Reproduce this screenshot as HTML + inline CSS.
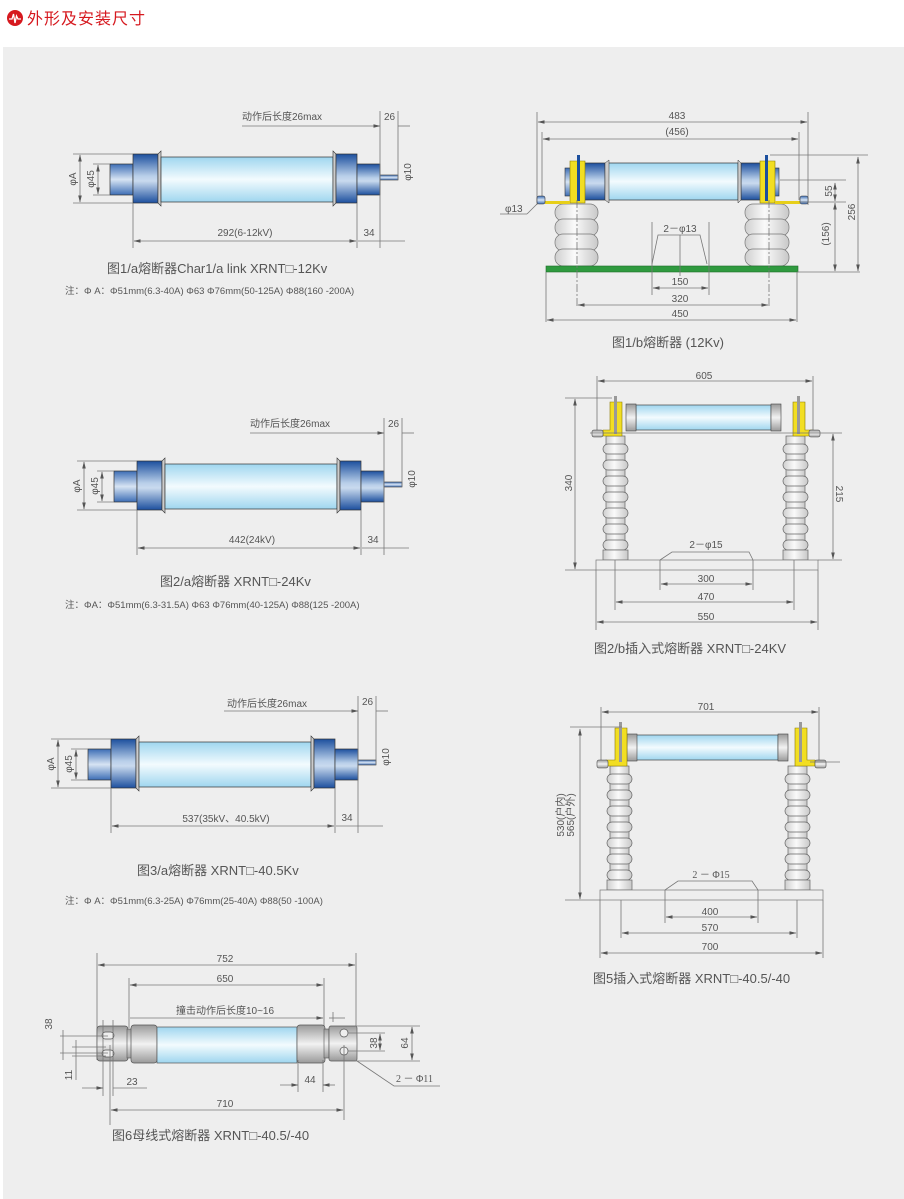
<!DOCTYPE html>
<html><head><meta charset="utf-8"><style>
html,body{margin:0;padding:0;background:#fff;}
svg{display:block;}
text{font-family:"Liberation Sans","Noto Sans CJK SC",sans-serif;fill:#555;}
.d{stroke:#777;stroke-width:0.8;fill:none;}
.t{font-size:10px;}
.c{font-size:13px;fill:#555;}
.n{font-size:9.5px;fill:#555;}
</style></head><body>
<svg width="904" height="1199" viewBox="0 0 904 1199" xmlns="http://www.w3.org/2000/svg">
<defs>
<marker id="a" markerWidth="7" markerHeight="6" refX="6.5" refY="3" orient="auto-start-reverse" markerUnits="userSpaceOnUse"><path d="M0,1.2 L7,3 L0,4.8z" fill="#555"/></marker>
<linearGradient id="bl" x1="0" y1="0" x2="0" y2="1"><stop offset="0" stop-color="#1c4f9e"/><stop offset="0.45" stop-color="#b9cfe9"/><stop offset="0.55" stop-color="#c9daee"/><stop offset="1" stop-color="#1c4f9e"/></linearGradient>
<linearGradient id="bl2" x1="0" y1="0" x2="0" y2="1"><stop offset="0" stop-color="#3c6db5"/><stop offset="0.5" stop-color="#d7e4f3"/><stop offset="1" stop-color="#3c6db5"/></linearGradient>
<linearGradient id="gl" x1="0" y1="0" x2="0" y2="1"><stop offset="0" stop-color="#9fd6ef"/><stop offset="0.5" stop-color="#f3fbfe"/><stop offset="1" stop-color="#9fd6ef"/></linearGradient>
<linearGradient id="gr" x1="0" y1="0" x2="0" y2="1"><stop offset="0" stop-color="#9a9a9a"/><stop offset="0.5" stop-color="#f2f2f2"/><stop offset="1" stop-color="#9a9a9a"/></linearGradient>
<linearGradient id="in" x1="0" y1="0" x2="1" y2="0"><stop offset="0" stop-color="#cfcfcf"/><stop offset="0.45" stop-color="#fafafa"/><stop offset="1" stop-color="#c8c8c8"/></linearGradient>
<g id="fa">
<rect x="110" y="164" width="23" height="31" fill="url(#bl2)" stroke="#333" stroke-width="0.7"/>
<rect x="133" y="154" width="25" height="49" fill="url(#bl)" stroke="#333" stroke-width="0.7"/>
<path d="M158,203 L161,206 L161,151 L158,154z" fill="#ccc" stroke="#333" stroke-width="0.6"/>
<rect x="161" y="157" width="172" height="45" fill="url(#gl)" stroke="#333" stroke-width="0.7"/>
<path d="M336,203 L333,206 L333,151 L336,154z" fill="#ccc" stroke="#333" stroke-width="0.6"/>
<rect x="336" y="154" width="21" height="49" fill="url(#bl)" stroke="#333" stroke-width="0.7"/>
<rect x="357" y="164" width="23" height="31" fill="url(#bl)" stroke="#333" stroke-width="0.7"/>
<rect x="380" y="175" width="18" height="5" fill="url(#bl2)" stroke="#333" stroke-width="0.6"/>
</g>
<g id="col">
<rect x="0" y="0" width="19" height="120" fill="url(#in)" stroke="#666" stroke-width="0.7"/>
<rect x="-3" y="8" width="25" height="10" rx="5" fill="url(#in)" stroke="#666" stroke-width="0.7"/>
<rect x="-3" y="24" width="25" height="10" rx="5" fill="url(#in)" stroke="#666" stroke-width="0.7"/>
<rect x="-3" y="40" width="25" height="10" rx="5" fill="url(#in)" stroke="#666" stroke-width="0.7"/>
<rect x="-3" y="56" width="25" height="10" rx="5" fill="url(#in)" stroke="#666" stroke-width="0.7"/>
<rect x="-3" y="72" width="25" height="10" rx="5" fill="url(#in)" stroke="#666" stroke-width="0.7"/>
<rect x="-3" y="88" width="25" height="10" rx="5" fill="url(#in)" stroke="#666" stroke-width="0.7"/>
<rect x="-3" y="104" width="25" height="10" rx="5" fill="url(#in)" stroke="#666" stroke-width="0.7"/>
<rect x="-3" y="114" width="25" height="10" fill="url(#in)" stroke="#666" stroke-width="0.7"/>
</g>
</defs>
<rect x="0" y="0" width="904" height="1199" fill="#fff"/>
<rect x="3" y="47" width="901" height="1152" fill="#eeeeee"/>
<!-- header -->
<circle cx="15" cy="18" r="8" fill="#d6191f"/>
<path d="M9,19 L12,19 L13.5,14 L15,23 L16.5,16 L18,19 L21,19" stroke="#fff" stroke-width="1.3" fill="none"/>
<text x="27" y="24" style="font-size:16px;fill:#d6191f;letter-spacing:1px">外形及安装尺寸</text>

<!-- Fig 1/a -->
<use href="#fa"/>
<text x="242" y="120" class="t">动作后长度26max</text>
<line x1="242" y1="126" x2="380" y2="126" class="d" marker-end="url(#a)"/>
<line x1="398" y1="126" x2="410" y2="126" class="d"/>
<line x1="380" y1="111" x2="380" y2="248" class="d"/>
<line x1="398" y1="111" x2="398" y2="180" class="d"/>
<text x="384" y="120" class="t">26</text>
<text transform="translate(411,172) rotate(-90)" class="t" text-anchor="middle">φ10</text>
<line x1="73" y1="154" x2="133" y2="154" class="d"/><line x1="73" y1="203" x2="133" y2="203" class="d"/>
<line x1="93" y1="164" x2="110" y2="164" class="d"/><line x1="93" y1="195" x2="110" y2="195" class="d"/>
<line x1="80" y1="155" x2="80" y2="202" class="d" marker-start="url(#a)" marker-end="url(#a)"/>
<line x1="98" y1="165" x2="98" y2="194" class="d" marker-start="url(#a)" marker-end="url(#a)"/>
<text transform="translate(76,179) rotate(-90)" class="t" text-anchor="middle">φA</text>
<text transform="translate(94,179) rotate(-90)" class="t" text-anchor="middle">φ45</text>
<line x1="133" y1="203" x2="133" y2="248" class="d"/><line x1="357" y1="203" x2="357" y2="248" class="d"/>
<line x1="134" y1="241" x2="356" y2="241" class="d" marker-start="url(#a)" marker-end="url(#a)"/>
<line x1="358" y1="241" x2="380" y2="241" class="d"/><line x1="380" y1="241" x2="405" y2="241" class="d"/>
<text x="245" y="236" class="t" text-anchor="middle">292(6-12kV)</text>
<text x="369" y="236" class="t" text-anchor="middle">34</text>
<text x="107" y="273" class="c">图1/a熔断器Char1/a link  XRNT□-12Kv</text>
<text x="65" y="294" class="n">注：Φ A：Φ51mm(6.3-40A)  Φ63  Φ76mm(50-125A)  Φ88(160 -200A)</text>

<!-- Fig 2/a -->
<g transform="translate(4,307)"><use href="#fa"/>
<line x1="246" y1="126" x2="380" y2="126" class="d" marker-end="url(#a)"/>
<line x1="398" y1="126" x2="410" y2="126" class="d"/>
<line x1="380" y1="111" x2="380" y2="248" class="d"/>
<line x1="398" y1="111" x2="398" y2="180" class="d"/>
<text x="384" y="120" class="t">26</text>
<text transform="translate(411,172) rotate(-90)" class="t" text-anchor="middle">φ10</text>
<line x1="73" y1="154" x2="133" y2="154" class="d"/><line x1="73" y1="203" x2="133" y2="203" class="d"/>
<line x1="93" y1="164" x2="110" y2="164" class="d"/><line x1="93" y1="195" x2="110" y2="195" class="d"/>
<line x1="80" y1="155" x2="80" y2="202" class="d" marker-start="url(#a)" marker-end="url(#a)"/>
<line x1="98" y1="165" x2="98" y2="194" class="d" marker-start="url(#a)" marker-end="url(#a)"/>
<text transform="translate(76,179) rotate(-90)" class="t" text-anchor="middle">φA</text>
<text transform="translate(94,179) rotate(-90)" class="t" text-anchor="middle">φ45</text>
<line x1="133" y1="203" x2="133" y2="248" class="d"/><line x1="357" y1="203" x2="357" y2="248" class="d"/>
<line x1="134" y1="241" x2="356" y2="241" class="d" marker-start="url(#a)" marker-end="url(#a)"/>
<line x1="358" y1="241" x2="405" y2="241" class="d"/>
<text x="369" y="236" class="t" text-anchor="middle">34</text>
</g>
<text x="250" y="427" class="t">动作后长度26max</text>
<text x="252" y="543" class="t" text-anchor="middle">442(24kV)</text>
<text x="160" y="586" class="c">图2/a熔断器 XRNT□-24Kv</text>
<text x="65" y="608" class="n">注：ΦA：Φ51mm(6.3-31.5A)  Φ63  Φ76mm(40-125A)  Φ88(125 -200A)</text>

<!-- Fig 3/a -->
<g transform="translate(-22,585)"><use href="#fa"/>
<line x1="246" y1="126" x2="380" y2="126" class="d" marker-end="url(#a)"/>
<line x1="398" y1="126" x2="410" y2="126" class="d"/>
<line x1="380" y1="111" x2="380" y2="248" class="d"/>
<line x1="398" y1="111" x2="398" y2="180" class="d"/>
<text x="384" y="120" class="t">26</text>
<text transform="translate(411,172) rotate(-90)" class="t" text-anchor="middle">φ10</text>
<line x1="73" y1="154" x2="133" y2="154" class="d"/><line x1="73" y1="203" x2="133" y2="203" class="d"/>
<line x1="93" y1="164" x2="110" y2="164" class="d"/><line x1="93" y1="195" x2="110" y2="195" class="d"/>
<line x1="80" y1="155" x2="80" y2="202" class="d" marker-start="url(#a)" marker-end="url(#a)"/>
<line x1="98" y1="165" x2="98" y2="194" class="d" marker-start="url(#a)" marker-end="url(#a)"/>
<text transform="translate(76,179) rotate(-90)" class="t" text-anchor="middle">φA</text>
<text transform="translate(94,179) rotate(-90)" class="t" text-anchor="middle">φ45</text>
<line x1="133" y1="203" x2="133" y2="248" class="d"/><line x1="357" y1="203" x2="357" y2="248" class="d"/>
<line x1="134" y1="241" x2="356" y2="241" class="d" marker-start="url(#a)" marker-end="url(#a)"/>
<line x1="358" y1="241" x2="405" y2="241" class="d"/>
<text x="369" y="236" class="t" text-anchor="middle">34</text>
</g>
<text x="227" y="707" class="t">动作后长度26max</text>
<text x="226" y="822" class="t" text-anchor="middle">537(35kV、40.5kV)</text>
<text x="137" y="875" class="c">图3/a熔断器 XRNT□-40.5Kv</text>
<text x="65" y="904" class="n">注：Φ A：Φ51mm(6.3-25A)  Φ76mm(25-40A)  Φ88(50 -100A)</text>

<!-- Fig 1/b -->
<line x1="537" y1="112" x2="537" y2="205" class="d"/><line x1="808" y1="112" x2="808" y2="205" class="d"/>
<line x1="542" y1="132" x2="542" y2="200" class="d"/><line x1="799" y1="132" x2="799" y2="200" class="d"/>
<line x1="538" y1="122" x2="807" y2="122" class="d" marker-start="url(#a)" marker-end="url(#a)"/>
<line x1="543" y1="139" x2="798" y2="139" class="d" marker-start="url(#a)" marker-end="url(#a)"/>
<text x="677" y="119" class="t" text-anchor="middle">483</text>
<text x="677" y="135" class="t" text-anchor="middle">(456)</text>
<!-- insulators -->
<g fill="url(#in)" stroke="#777" stroke-width="0.7">
<rect x="555" y="204" width="43" height="17" rx="8"/><rect x="555" y="219" width="43" height="17" rx="8"/><rect x="555" y="234" width="43" height="17" rx="8"/><rect x="555" y="249" width="43" height="17" rx="8"/>
<rect x="745" y="204" width="44" height="17" rx="8"/><rect x="745" y="219" width="44" height="17" rx="8"/><rect x="745" y="234" width="44" height="17" rx="8"/><rect x="745" y="249" width="44" height="17" rx="8"/>
</g>
<rect x="546" y="266" width="252" height="6" fill="#2f9a3f" stroke="#1e6e2b" stroke-width="0.6"/>
<!-- fuse -->
<rect x="608" y="163" width="130" height="37" fill="url(#gl)" stroke="#333" stroke-width="0.7"/>
<rect x="583" y="163" width="22" height="37" fill="url(#bl)" stroke="#333" stroke-width="0.7"/>
<rect x="741" y="163" width="22" height="37" fill="url(#bl)" stroke="#333" stroke-width="0.7"/>
<rect x="565" y="168" width="10" height="28" fill="url(#bl2)" stroke="#333" stroke-width="0.6"/>
<rect x="770" y="168" width="9" height="28" fill="url(#bl2)" stroke="#333" stroke-width="0.6"/>
<path d="M605,200 L609,203 L609,160 L605,163z M741,200 L738,203 L738,160 L741,163z" fill="#ccc" stroke="#333" stroke-width="0.5"/>
<path d="M570,161 L585,161 L585,203 L570,203z" fill="#f2de22" stroke="#8a7a00" stroke-width="0.6"/>
<path d="M760,161 L775,161 L775,203 L760,203z" fill="#f2de22" stroke="#8a7a00" stroke-width="0.6"/>
<rect x="577" y="155" width="3" height="46" fill="#1c4f9e"/><rect x="765" y="155" width="3" height="46" fill="#1c4f9e"/>
<rect x="545" y="201" width="25" height="3" fill="#e7cf1a"/><rect x="775" y="201" width="25" height="3" fill="#e7cf1a"/>
<rect x="537" y="196" width="8" height="8" rx="2" fill="url(#bl2)" stroke="#333" stroke-width="0.6"/>
<rect x="800" y="196" width="8" height="8" rx="2" fill="url(#bl2)" stroke="#333" stroke-width="0.6"/>
<line x1="577" y1="200" x2="577" y2="308" class="d" stroke-dasharray="8,2,2,2"/>
<line x1="769" y1="200" x2="769" y2="308" class="d" stroke-dasharray="8,2,2,2"/>
<line x1="500" y1="214" x2="527" y2="214" class="d"/><line x1="527" y1="214" x2="537" y2="204" class="d"/>
<text x="505" y="212" class="t">φ13</text>
<line x1="652" y1="222" x2="652" y2="295" class="d"/><line x1="709" y1="222" x2="709" y2="295" class="d"/>
<path d="M652,264 L658,235 L700,235 L707,264" class="d"/>
<line x1="680" y1="235" x2="680" y2="276" class="d"/>
<text x="680" y="232" class="t" text-anchor="middle">2－φ13</text>
<line x1="653" y1="288" x2="708" y2="288" class="d" marker-start="url(#a)" marker-end="url(#a)"/>
<text x="680" y="285" class="t" text-anchor="middle">150</text>
<line x1="578" y1="305" x2="768" y2="305" class="d" marker-start="url(#a)" marker-end="url(#a)"/>
<text x="680" y="302" class="t" text-anchor="middle">320</text>
<line x1="546" y1="272" x2="546" y2="322" class="d"/><line x1="797" y1="272" x2="797" y2="322" class="d"/>
<line x1="547" y1="320" x2="796" y2="320" class="d" marker-start="url(#a)" marker-end="url(#a)"/>
<text x="680" y="317" class="t" text-anchor="middle">450</text>
<line x1="770" y1="155" x2="868" y2="155" class="d"/><line x1="780" y1="180" x2="846" y2="180" class="d"/>
<line x1="800" y1="202" x2="846" y2="202" class="d"/><line x1="797" y1="272" x2="860" y2="272" class="d"/>
<line x1="835" y1="183" x2="835" y2="201" class="d" marker-start="url(#a)" marker-end="url(#a)"/>
<line x1="835" y1="203" x2="835" y2="271" class="d" marker-start="url(#a)" marker-end="url(#a)"/>
<line x1="858" y1="157" x2="858" y2="271" class="d" marker-start="url(#a)" marker-end="url(#a)"/>
<text transform="translate(832,191) rotate(-90)" class="t" text-anchor="middle">55</text>
<text transform="translate(829,234) rotate(-90)" class="t" text-anchor="middle">(156)</text>
<text transform="translate(855,212) rotate(-90)" class="t" text-anchor="middle">256</text>
<text x="612" y="347" class="c">图1/b熔断器 (12Kv)</text>

<!-- Fig 2/b -->
<line x1="597" y1="376" x2="597" y2="432" class="d"/><line x1="813" y1="376" x2="813" y2="432" class="d"/>
<line x1="598" y1="381" x2="812" y2="381" class="d" marker-start="url(#a)" marker-end="url(#a)"/>
<text x="704" y="379" class="t" text-anchor="middle">605</text>
<use href="#col" transform="translate(606,436)"/>
<use href="#col" transform="translate(786,436)"/>
<rect x="596" y="560" width="222" height="10" fill="#eee" stroke="#777" stroke-width="0.7"/>
<rect x="636" y="405" width="135" height="25" fill="url(#gl)" stroke="#444" stroke-width="0.7"/>
<rect x="626" y="404" width="10" height="27" fill="url(#gr)" stroke="#444" stroke-width="0.6"/>
<rect x="771" y="404" width="10" height="27" fill="url(#gr)" stroke="#444" stroke-width="0.6"/>
<path d="M610,402 L622,402 L622,436 L603,436 L603,430 L610,430z" fill="#f2de22" stroke="#8a7a00" stroke-width="0.6"/>
<path d="M793,402 L805,402 L805,430 L812,430 L812,436 L793,436z" fill="#f2de22" stroke="#8a7a00" stroke-width="0.6"/>
<rect x="614" y="396" width="3" height="38" fill="#999"/><rect x="797" y="396" width="3" height="38" fill="#999"/>
<rect x="592" y="430" width="11" height="7" rx="2" fill="url(#gr)" stroke="#444" stroke-width="0.6"/>
<rect x="809" y="430" width="11" height="7" rx="2" fill="url(#gr)" stroke="#444" stroke-width="0.6"/>
<line x1="565" y1="398" x2="612" y2="398" class="d"/><line x1="565" y1="570" x2="596" y2="570" class="d"/>
<line x1="575" y1="399" x2="575" y2="569" class="d" marker-start="url(#a)" marker-end="url(#a)"/>
<text transform="translate(572,483) rotate(-90)" class="t" text-anchor="middle">340</text>
<line x1="590" y1="433" x2="842" y2="433" class="d"/><line x1="818" y1="560" x2="842" y2="560" class="d"/>
<line x1="833" y1="434" x2="833" y2="559" class="d" marker-start="url(#a)" marker-end="url(#a)"/>
<text transform="translate(836,494) rotate(90)" class="t" text-anchor="middle">215</text>
<path d="M660,560 L672,552 L749,552 L753,560" class="d"/>
<text x="706" y="548" class="t" text-anchor="middle">2－φ15</text>
<line x1="660" y1="560" x2="660" y2="590" class="d"/><line x1="753" y1="560" x2="753" y2="590" class="d"/>
<line x1="661" y1="584" x2="752" y2="584" class="d" marker-start="url(#a)" marker-end="url(#a)"/>
<text x="706" y="582" class="t" text-anchor="middle">300</text>
<line x1="615" y1="560" x2="615" y2="610" class="d"/><line x1="794" y1="560" x2="794" y2="610" class="d"/>
<line x1="616" y1="602" x2="793" y2="602" class="d" marker-start="url(#a)" marker-end="url(#a)"/>
<text x="706" y="600" class="t" text-anchor="middle">470</text>
<line x1="596" y1="570" x2="596" y2="630" class="d"/><line x1="818" y1="570" x2="818" y2="630" class="d"/>
<line x1="597" y1="622" x2="817" y2="622" class="d" marker-start="url(#a)" marker-end="url(#a)"/>
<text x="706" y="620" class="t" text-anchor="middle">550</text>
<text x="594" y="653" class="c">图2/b插入式熔断器 XRNT□-24KV</text>

<!-- Fig 5 -->
<line x1="601" y1="707" x2="601" y2="765" class="d"/><line x1="819" y1="707" x2="819" y2="765" class="d"/>
<line x1="602" y1="712" x2="818" y2="712" class="d" marker-start="url(#a)" marker-end="url(#a)"/>
<text x="706" y="710" class="t" text-anchor="middle">701</text>
<use href="#col" transform="translate(610,766)"/>
<use href="#col" transform="translate(788,766)"/>
<rect x="600" y="890" width="223" height="10" fill="#eee" stroke="#777" stroke-width="0.7"/>
<rect x="636" y="735" width="142" height="25" fill="url(#gl)" stroke="#444" stroke-width="0.7"/>
<rect x="627" y="734" width="10" height="27" fill="url(#gr)" stroke="#444" stroke-width="0.6"/>
<rect x="778" y="734" width="10" height="27" fill="url(#gr)" stroke="#444" stroke-width="0.6"/>
<path d="M615,728 L627,728 L627,766 L606,766 L606,760 L615,760z" fill="#f2de22" stroke="#8a7a00" stroke-width="0.6"/>
<path d="M795,728 L807,728 L807,760 L815,760 L815,766 L795,766z" fill="#f2de22" stroke="#8a7a00" stroke-width="0.6"/>
<rect x="619" y="722" width="3" height="40" fill="#999"/><rect x="799" y="722" width="3" height="40" fill="#999"/>
<rect x="597" y="760" width="11" height="8" rx="2" fill="url(#gr)" stroke="#444" stroke-width="0.6"/>
<rect x="815" y="760" width="11" height="8" rx="2" fill="url(#gr)" stroke="#444" stroke-width="0.6"/>
<line x1="570" y1="727" x2="622" y2="727" class="d"/><line x1="565" y1="900" x2="600" y2="900" class="d"/>
<line x1="580" y1="729" x2="580" y2="899" class="d" marker-start="url(#a)" marker-end="url(#a)"/>
<text transform="translate(564,815) rotate(-90)" class="t" text-anchor="middle">530(户内)</text>
<text transform="translate(574,815) rotate(-90)" class="t" text-anchor="middle">565(户外)</text>
<line x1="810" y1="762" x2="840" y2="762" class="d"/>
<path d="M665,890 L678,881 L752,881 L758,890" class="d"/>
<text x="711" y="878" class="t" text-anchor="middle" style="font-family:'Liberation Serif',serif">2 － Φ15</text>
<line x1="665" y1="890" x2="665" y2="923" class="d"/><line x1="758" y1="890" x2="758" y2="923" class="d"/>
<line x1="666" y1="917" x2="757" y2="917" class="d" marker-start="url(#a)" marker-end="url(#a)"/>
<text x="710" y="915" class="t" text-anchor="middle">400</text>
<line x1="621" y1="900" x2="621" y2="938" class="d"/><line x1="797" y1="900" x2="797" y2="938" class="d"/>
<line x1="622" y1="933" x2="796" y2="933" class="d" marker-start="url(#a)" marker-end="url(#a)"/>
<text x="710" y="931" class="t" text-anchor="middle">570</text>
<line x1="600" y1="900" x2="600" y2="958" class="d"/><line x1="823" y1="900" x2="823" y2="958" class="d"/>
<line x1="601" y1="953" x2="822" y2="953" class="d" marker-start="url(#a)" marker-end="url(#a)"/>
<text x="710" y="950" class="t" text-anchor="middle">700</text>
<text x="593" y="983" class="c">图5插入式熔断器 XRNT□-40.5/-40</text>

<!-- Fig 6 -->
<line x1="97" y1="953" x2="97" y2="1060" class="d"/><line x1="356" y1="953" x2="356" y2="1028" class="d"/>
<line x1="98" y1="965" x2="355" y2="965" class="d" marker-start="url(#a)" marker-end="url(#a)"/>
<text x="225" y="962" class="t" text-anchor="middle">752</text>
<line x1="129" y1="978" x2="129" y2="1028" class="d"/><line x1="324" y1="978" x2="324" y2="1028" class="d"/>
<line x1="130" y1="985" x2="323" y2="985" class="d" marker-start="url(#a)" marker-end="url(#a)"/>
<text x="225" y="982" class="t" text-anchor="middle">650</text>
<text x="225" y="1014" class="t" text-anchor="middle">撞击动作后长度10~16</text>
<line x1="130" y1="1018" x2="323" y2="1018" class="d" marker-end="url(#a)"/>
<line x1="333" y1="1018" x2="345" y2="1018" class="d"/><line x1="333" y1="1018" x2="329" y2="1018" class="d"/>
<line x1="333" y1="1012" x2="333" y2="1022" class="d"/>
<rect x="97" y="1026" width="31" height="35" rx="3" fill="url(#gr)" stroke="#555" stroke-width="0.7"/>
<rect x="127" y="1029" width="5" height="29" fill="url(#gr)" stroke="#555" stroke-width="0.6"/>
<rect x="131" y="1025" width="26" height="38" rx="3" fill="url(#gr)" stroke="#555" stroke-width="0.7"/>
<rect x="157" y="1027" width="140" height="36" fill="url(#gl)" stroke="#555" stroke-width="0.7"/>
<rect x="297" y="1025" width="28" height="38" rx="3" fill="url(#gr)" stroke="#555" stroke-width="0.7"/>
<rect x="324" y="1029" width="5" height="29" fill="url(#gr)" stroke="#555" stroke-width="0.6"/>
<rect x="329" y="1026" width="28" height="35" rx="2" fill="url(#gr)" stroke="#555" stroke-width="0.7"/>
<rect x="102" y="1032" width="12" height="7" rx="3.5" fill="#eee" stroke="#555" stroke-width="0.7"/>
<rect x="102" y="1050" width="12" height="7" rx="3.5" fill="#eee" stroke="#555" stroke-width="0.7"/>
<circle cx="344" cy="1033" r="4" fill="#eee" stroke="#555" stroke-width="0.7"/>
<circle cx="344" cy="1051" r="4" fill="#eee" stroke="#555" stroke-width="0.7"/>
<line x1="60" y1="1036" x2="108" y2="1036" class="d"/><line x1="60" y1="1053" x2="108" y2="1053" class="d"/>
<line x1="72" y1="1047" x2="106" y2="1047" class="d"/><line x1="72" y1="1056" x2="106" y2="1056" class="d"/>
<line x1="63" y1="1030" x2="63" y2="1060" class="d"/>
<line x1="76" y1="1040" x2="76" y2="1080" class="d"/>
<text transform="translate(52,1024) rotate(-90)" class="t" text-anchor="middle">38</text>
<text transform="translate(72,1075) rotate(-90)" class="t" text-anchor="middle">11</text>
<line x1="103" y1="1020" x2="103" y2="1096" class="d"/><line x1="113" y1="1020" x2="113" y2="1096" class="d"/>
<line x1="82" y1="1088" x2="103" y2="1088" class="d" marker-end="url(#a)"/>
<line x1="113" y1="1088" x2="147" y2="1088" class="d"/>
<text x="132" y="1085" class="t" text-anchor="middle">23</text>
<line x1="298" y1="1060" x2="298" y2="1092" class="d"/><line x1="323" y1="1060" x2="323" y2="1092" class="d"/>
<line x1="280" y1="1085" x2="298" y2="1085" class="d" marker-end="url(#a)"/>
<line x1="335" y1="1085" x2="323" y2="1085" class="d" marker-end="url(#a)"/>
<text x="310" y="1083" class="t" text-anchor="middle">44</text>
<line x1="110" y1="1045" x2="110" y2="1125" class="d"/><line x1="344" y1="1045" x2="344" y2="1120" class="d"/>
<line x1="111" y1="1110" x2="343" y2="1110" class="d" marker-start="url(#a)" marker-end="url(#a)"/>
<text x="225" y="1107" class="t" text-anchor="middle">710</text>
<line x1="355" y1="1026" x2="420" y2="1026" class="d"/><line x1="355" y1="1061" x2="420" y2="1061" class="d"/>
<line x1="348" y1="1033" x2="385" y2="1033" class="d"/><line x1="348" y1="1051" x2="385" y2="1051" class="d"/>
<line x1="380" y1="1034" x2="380" y2="1050" class="d" marker-start="url(#a)" marker-end="url(#a)"/>
<line x1="412" y1="1027" x2="412" y2="1060" class="d" marker-start="url(#a)" marker-end="url(#a)"/>
<text transform="translate(377,1043) rotate(-90)" class="t" text-anchor="middle">38</text>
<text transform="translate(408,1043) rotate(-90)" class="t" text-anchor="middle">64</text>
<path d="M357,1061 L394,1086 L440,1086" class="d"/>
<text x="396" y="1082" class="t" style="font-family:'Liberation Serif',serif">2 － Φ11</text>
<text x="112" y="1140" class="c">图6母线式熔断器 XRNT□-40.5/-40</text>
</svg>
</body></html>
